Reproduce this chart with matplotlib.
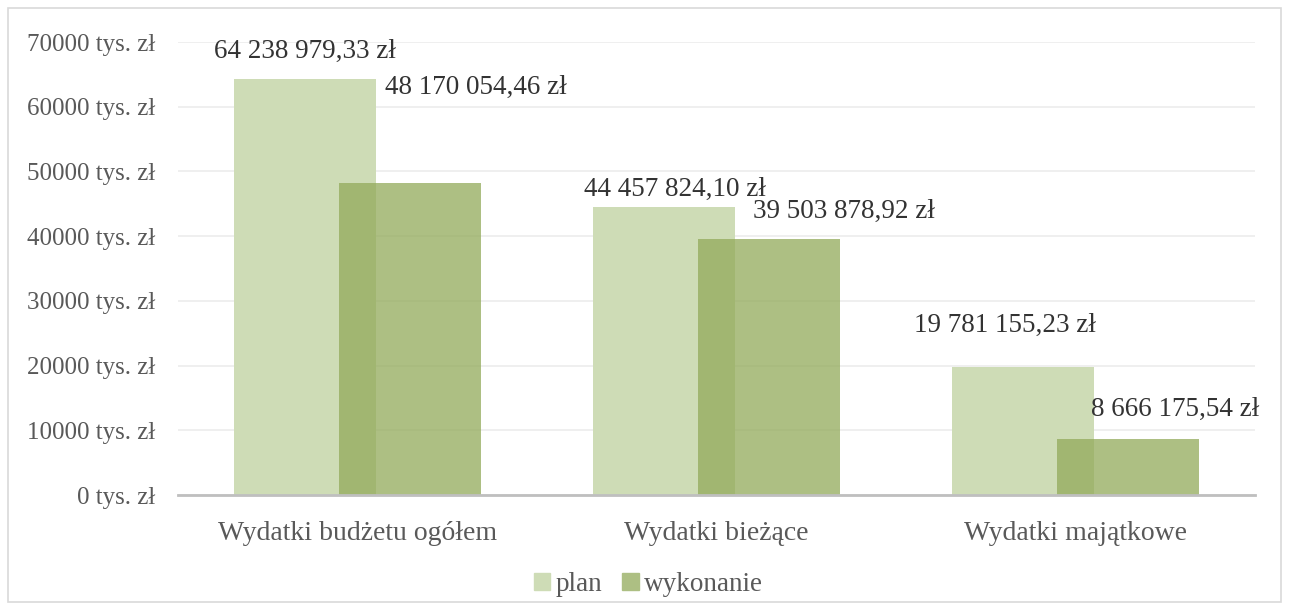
import matplotlib.pyplot as plt
import matplotlib.patches as mpatches
import numpy as np

plt.rcParams['font.family'] = ['Liberation Serif', 'DejaVu Serif']

# data (values in tys. zł)
categories = ["Wydatki budżetu ogółem", "Wydatki bieżące", "Wydatki majątkowe"]
plan = [64238.97933, 44457.82410, 19781.15523]
wykonanie = [48170.05446, 39503.87892, 8666.17554]
plan_labels = ["64 238 979,33 zł", "44 457 824,10 zł", "19 781 155,23 zł"]
wyk_labels = ["48 170 054,46 zł", "39 503 878,92 zł", "8 666 175,54 zł"]

# label offsets in points (labels were moved by hand in the original)
plan_off = [(0, 20), (8, 13), (-13, 30)]
wyk_off = [(47, 69), (54, 20), (34, 21)]

text_col = "#595959"
c_plan = "#cedcb6"
c_wyk = "#92aa5a"

fig = plt.figure(figsize=(12.89, 6.10), dpi=100)
ax = fig.add_axes([0.138, 0.1885, 0.8356, 0.7425])

x = np.arange(len(categories))
w = 0.395
off = 0.147

b1 = ax.bar(x - off, plan, w, color=c_plan, zorder=2, label="plan")
b2 = ax.bar(x + off, wykonanie, w, color=c_wyk, alpha=0.75, zorder=3,
            label="wykonanie", linewidth=0)

for i in range(len(x)):
    ax.annotate(plan_labels[i], (x[i] - off, plan[i]), xytext=plan_off[i],
                textcoords="offset points", ha="center", va="center",
                fontsize=19.5, color="#333333")
    ax.annotate(wyk_labels[i], (x[i] + off, wykonanie[i]), xytext=wyk_off[i],
                textcoords="offset points", ha="center", va="center",
                fontsize=19.5, color="#333333")

ax.set_xlim(-0.5, 2.5)
ax.set_ylim(0, 70000)
ax.set_yticks(np.arange(0, 70001, 10000))
ax.set_yticklabels([f"{int(v)} tys. zł" for v in np.arange(0, 70001, 10000)])
ax.set_xticks(x)
ax.set_xticklabels(categories)
ax.tick_params(axis="y", length=0, pad=16, labelsize=18, labelcolor=text_col)
ax.tick_params(axis="x", length=0, pad=19, labelsize=20, labelcolor=text_col)

ax.grid(axis="y", color="#ececec", linewidth=1.2, zorder=0)
ax.set_axisbelow(True)
for s in ["top", "right", "left"]:
    ax.spines[s].set_visible(False)
ax.spines["bottom"].set_color("#bfbfbf")
ax.spines["bottom"].set_linewidth(2)
ax.spines["bottom"].set_zorder(4)

h1 = mpatches.Patch(color=c_plan)
h2 = mpatches.Patch(color="#adbf83")
fig.legend([h1, h2], ["plan", "wykonanie"], loc="center", ncol=2,
           bbox_to_anchor=(0.503, 0.042), frameon=False, fontsize=19.5,
           labelcolor=text_col, handlelength=0.6, handleheight=0.6,
           handletextpad=0.2, columnspacing=0.75)

border = mpatches.Rectangle((8 / 1289, 8 / 610), 1273 / 1289, 594 / 610,
                            transform=fig.transFigure, fill=False,
                            edgecolor="#d9d9d9", linewidth=1.2)
fig.patches.append(border)

plt.savefig("out.png", dpi=100)
